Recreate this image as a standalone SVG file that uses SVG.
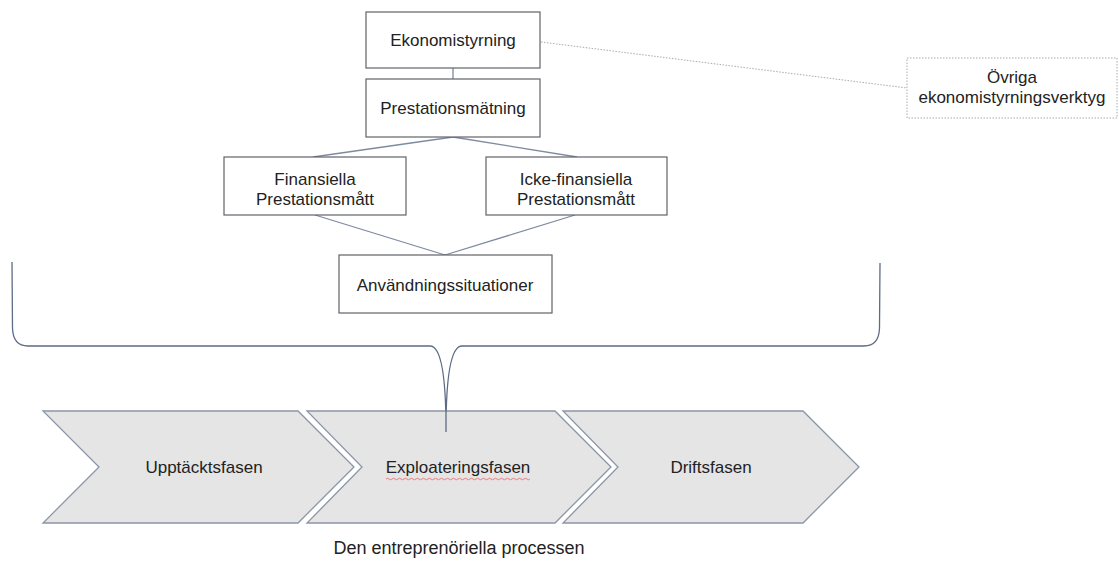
<svg xmlns="http://www.w3.org/2000/svg" width="1119" height="568" viewBox="0 0 1119 568">
<style>
.box{fill:#fff;stroke:#5f6368;stroke-width:1.2}
.dbox{fill:#fff;stroke:#aaaaaa;stroke-width:1;stroke-dasharray:1.5,1.5}
.ln{stroke:#7d8aa0;stroke-width:1.3;fill:none}
.dot{stroke:#aaaaaa;stroke-width:1;stroke-dasharray:1.5,1.5;fill:none}
.brace{stroke:#5d6b85;stroke-width:1.3;fill:none}
.chev{fill:#e5e5e5;stroke:#8a95a6;stroke-width:1.3}
text{font-family:"Liberation Sans",Arial,sans-serif;font-size:17px;fill:#222;text-anchor:middle}
.cap{font-size:18px}
</style>
<rect width="1119" height="568" fill="#fff"/>
<g id="connectors">
<line class="ln" x1="453" y1="68" x2="453" y2="79"/>
<line class="ln" x1="453" y1="137" x2="313" y2="157"/>
<line class="ln" x1="453" y1="137" x2="577" y2="157"/>
<line class="ln" x1="315" y1="215" x2="445" y2="255"/>
<line class="ln" x1="575" y1="215" x2="445" y2="255"/>
<line class="dot" x1="541" y1="42" x2="907" y2="88"/>
<path class="brace" d="M12,262 L12.5,328 Q13,346 28,346 L430,346 C440,346 446,370 446,430 C446,370 452,346 462,346 L864,346 Q879,346 879.5,328 L880,263"/>
</g>
<g id="chev1"><polygon class="chev" points="43,411 298,411 354,467 298,523 43,523 99,467"/><text x="204" y="473">Upptäcktsfasen</text></g>
<g id="chev2"><polygon class="chev" points="307,411 555,411 611,467 555,523 307,523 362,467"/><text x="458" y="473">Exploateringsfasen</text>
<path d="M386,479 q1.5,-1.5 3,0 t3,0 t3,0 t3,0 t3,0 t3,0 t3,0 t3,0 t3,0 t3,0 t3,0 t3,0 t3,0 t3,0 t3,0 t3,0 t3,0 t3,0 t3,0 t3,0 t3,0 t3,0 t3,0 t3,0 t3,0 t3,0 t3,0 t3,0 t3,0 t3,0 t3,0 t3,0 t3,0 t3,0 t3,0 t3,0 t3,0 t3,0 t3,0 t3,0 t3,0 t3,0 t3,0 t3,0 t3,0 t3,0 t3,0 t3,0" fill="none" stroke="#e06666" stroke-width="0.8"/></g>
<g id="chev3"><polygon class="chev" points="563,411 803,411 859,467 803,523 563,523 618,467"/><text x="711" y="473">Driftsfasen</text></g>
<g id="brace-tip"><line class="brace" x1="446" y1="410" x2="446" y2="432"/></g>
<g id="n1"><rect class="box" x="366" y="12" width="174" height="56"/><text x="453" y="46">Ekonomistyrning</text></g>
<g id="n2"><rect class="box" x="366" y="79" width="174" height="58"/><text x="453" y="114">Prestationsmätning</text></g>
<g id="n3"><rect class="box" x="224" y="157" width="182" height="58"/><text x="315" y="185">Finansiella</text><text x="315" y="205">Prestationsmått</text></g>
<g id="n4"><rect class="box" x="486" y="157" width="181" height="58"/><text x="576" y="185">Icke-finansiella</text><text x="576" y="205">Prestationsmått</text></g>
<g id="n5"><rect class="box" x="339" y="255" width="213" height="58"/><text x="445" y="291">Användningssituationer</text></g>
<g id="n6"><rect class="dbox" x="907" y="58" width="210" height="60"/><text x="1012" y="83">Övriga</text><text x="1012" y="103">ekonomistyrningsverktyg</text></g>
<g id="caption"><text class="cap" x="459" y="554">Den entreprenöriella processen</text></g>
</svg>
